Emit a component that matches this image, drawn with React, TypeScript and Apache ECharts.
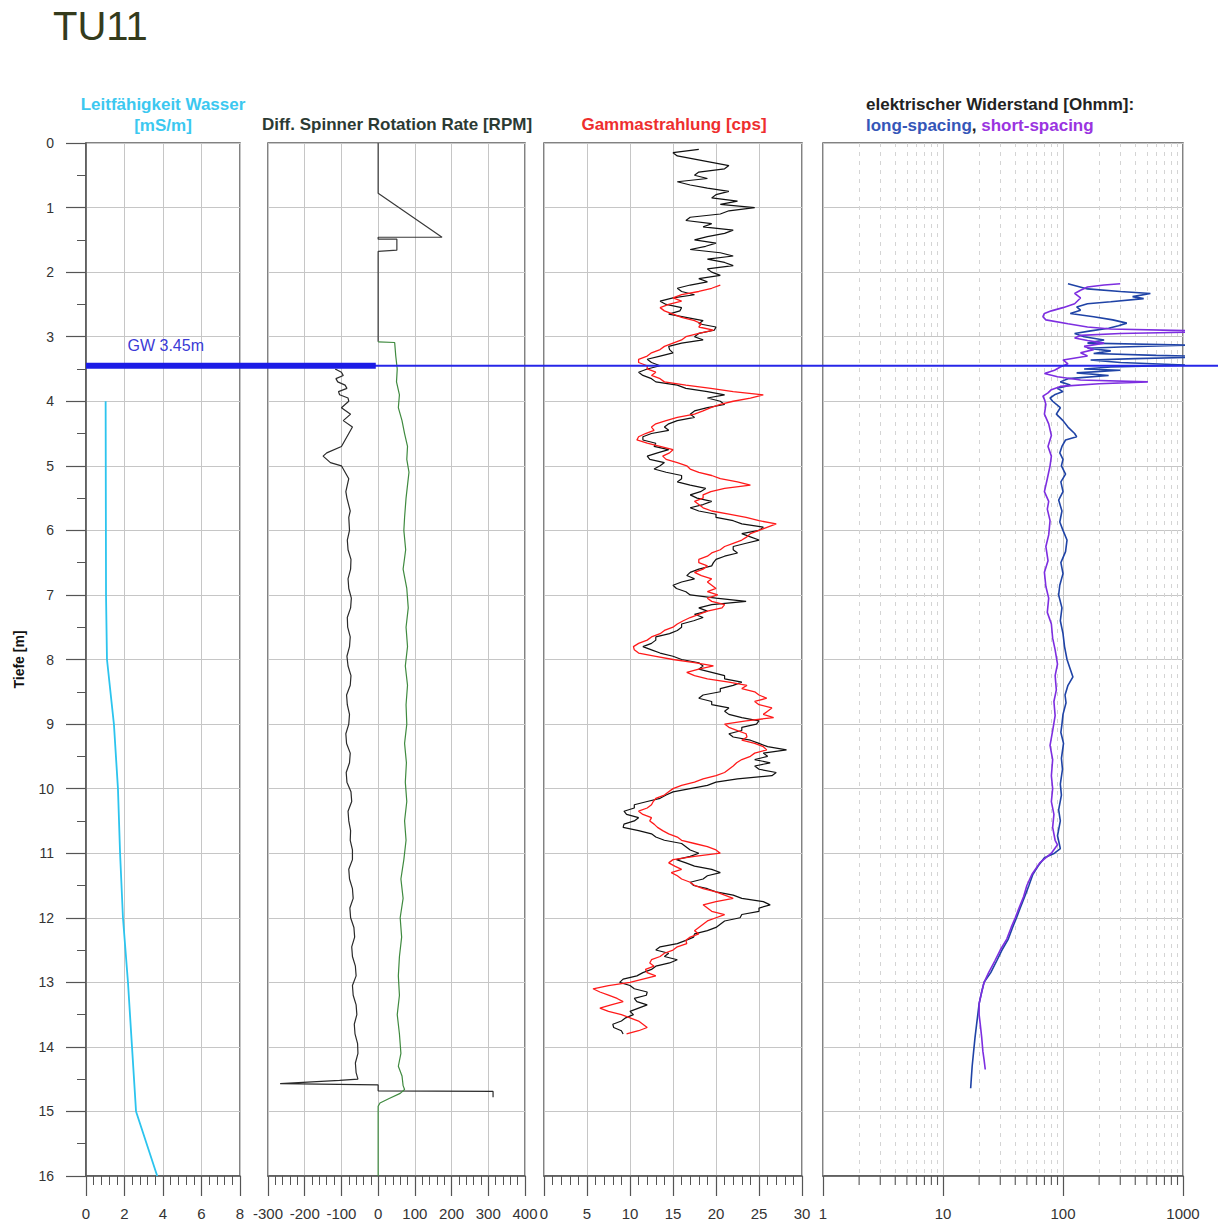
import React, { useEffect, useRef } from "react";
import * as echarts from "echarts";

const FONT = '"Liberation Sans", Arial, Helvetica, sans-serif';
const TITLE = "TU11";
const GW_DEPTH = 3.45;
const GW_LABEL = "GW 3.45m";

// Leitfähigkeit Wasser [mS/m]
const condDepth = [4.0, 7.0, 8.0, 9.0, 10, 11, 12, 13, 14, 15, 16];
const condValue = [1.02, 1.04, 1.09, 1.45, 1.66, 1.77, 1.92, 2.18, 2.39, 2.6, 3.7];

// Diff. Spinner Rotation Rate [RPM] (black, two runs)
const spinTopDepth = [0, 0.78, 1.46, 1.46, 1.49, 1.49, 1.66, 1.68, 3.08];
const spinTopValue = [0, 0, 174, 0, 0, 51, 51, 0, 0];
const spinLowDepth = [3.5, 3.55, 3.6, 3.65, 3.7, 3.75, 3.8, 3.85, 3.9, 3.95, 4.0, 4.1, 4.2, 4.3, 4.4, 4.5, 4.6, 4.7, 4.8, 4.85, 4.95, 5.0, 5.2, 5.4, 5.5, 5.7, 5.8, 6.0, 6.15, 6.3, 6.45, 6.6, 6.75, 6.9, 7.05, 7.2, 7.35, 7.5, 7.65, 7.8, 7.95, 8.1, 8.25, 8.4, 8.55, 8.7, 8.85, 9.0, 9.15, 9.3, 9.45, 9.6, 9.75, 9.9, 10.05, 10.2, 10.35, 10.5, 10.65, 10.8, 10.95, 11.1, 11.25, 11.4, 11.55, 11.7, 11.85, 12.0, 12.15, 12.3, 12.45, 12.6, 12.75, 12.9, 13.05, 13.2, 13.35, 13.5, 13.65, 13.8, 13.95, 14.1, 14.25, 14.4, 14.5, 14.52, 14.57, 14.59, 14.68, 14.69, 14.78];
const spinLowValue = [-117, -100, -95, -115, -110, -90, -85, -108, -105, -82, -80, -100, -75, -95, -70, -80, -90, -100, -140, -150, -130, -100, -80, -88, -85, -76, -80, -78, -84, -82, -74, -75, -82, -80, -73, -75, -84, -83, -76, -78, -85, -82, -74, -76, -86, -84, -78, -80, -88, -86, -76, -78, -87, -85, -74, -72, -82, -80, -75, -76, -70, -70, -80, -78, -70, -68, -77, -75, -66, -64, -72, -70, -62, -60, -70, -68, -60, -58, -65, -63, -56, -55, -62, -60, -55, -105, -267, 0, 0, 313, 313];
// green run
const spinGreenDepth = [3.08, 3.09, 3.3, 3.5, 3.7, 3.9, 4.1, 4.3, 4.5, 4.7, 4.9, 5.1, 5.3, 5.5, 5.8, 6.0, 6.3, 6.6, 6.9, 7.2, 7.5, 7.8, 8.1, 8.4, 8.7, 9.0, 9.3, 9.6, 9.9, 10.2, 10.5, 10.8, 11.1, 11.4, 11.7, 12.0, 12.3, 12.6, 12.9, 13.2, 13.5, 13.8, 14.1, 14.3, 14.45, 14.6, 14.66, 14.72, 14.8, 14.87, 14.92, 16];
const spinGreenValue = [0, 45, 48, 52, 50, 58, 55, 65, 72, 80, 78, 84, 80, 76, 72, 70, 75, 68, 78, 82, 76, 80, 74, 80, 76, 78, 72, 77, 74, 78, 72, 76, 70, 62, 68, 60, 64, 58, 55, 58, 52, 58, 62, 55, 65, 68, 72, 60, 30, 5, 0, 0];

// Gammastrahlung [cps], sampled every 0.05 m
const GAMMA_STEP = 0.05;
const gammaBlackStart = 0.1;
const gammaBlack = [
  18, 15, 15.5, 17.5, 19.5, 21.5, 21, 18, 17.5, 19, 15.5, 17, 19, 21.5, 20, 19.5, 22.5, 20.5, 24.5, 21.5,
  20.5, 17, 16.5, 19.5, 18.5, 22, 21, 19, 17.5, 20, 18.8, 17, 20.5, 22, 19, 21, 22, 19, 19.5, 20.5,
  18, 19, 17, 15.5, 16, 17.5, 15, 13.5, 14.2, 16, 15.8, 14.5, 16.5, 18.5, 18, 20, 19.8, 18, 17.5, 18.5,
  16, 14.5, 14.6, 15, 13.5, 12, 12.5, 13.5, 12, 11, 11.5, 12.5, 13, 15.5, 16.5, 19, 21, 19, 20.5, 21,
  19, 17.5, 17, 17.5, 15.5, 14.5, 14, 14.5, 12.5, 11.5, 11.5, 13, 12.8, 14.5, 13.2, 12, 12.3, 14, 13.5, 12.8,
  14.2, 16, 16, 15.5, 17, 18.8, 18.2, 17, 17.8, 19.5, 18.5, 17, 18, 20, 20, 22, 23, 25.5, 25, 23,
  24, 25, 23.5, 22, 22, 22.5, 21, 20, 19.7, 19.5, 18, 17, 16.6, 17.5, 16, 15, 15.4, 16.5, 17, 20,
  23.5, 19.5, 18, 19, 17.5, 18.5, 17.4, 16, 16, 15.5, 14.6, 13, 13, 12.5, 11.5, 12.5, 13.5, 15, 16, 18,
  18.5, 18, 19.5, 21, 21, 23, 22, 20.5, 20.5, 18.5, 18, 19.5, 19.5, 21.5, 21, 21.5, 23, 25, 24.7, 23,
  23, 21.5, 22, 24, 25, 26, 28.2, 25.5, 26, 24.5, 26.3, 24.5, 25, 27, 26.5, 22.5, 20, 19, 17, 15,
  14.2, 13.5, 12, 10.5, 10.5, 9.3, 9.6, 11, 10.5, 9.3, 9.2, 11, 12.5, 13, 14, 16, 16.5, 17, 18, 17,
  15.4, 16.5, 17.5, 19.5, 20.5, 19, 18.5, 17, 17.4, 19, 20, 22, 23, 25.5, 26.3, 25, 25, 23, 22.8, 21,
  20.5, 20, 19, 17.5, 17.4, 16.5, 15.5, 13.5, 13, 14.5, 14, 15.5, 14.6, 13, 12.5, 11.5, 10.8, 9.2, 8.8, 10,
  10.5, 12, 11.9, 10.5, 10.8, 12, 11, 10, 10.4, 9.5, 9, 8, 8.1, 9, 9.2,
];
const gammaRedStart = 2.2;
const gammaRed = [
  20.5, 19.5, 18, 16, 15, 16, 14.5, 13.5, 14, 15, 16, 17.5, 18.3, 18, 19.7, 18, 16.5, 16,
  15, 14, 13.5, 12.5, 12, 11, 11, 12, 12, 13, 12.5, 13.5, 14, 16.5, 19.4, 22, 25.5, 24, 22, 20.5,
  19.4, 18.5, 17.5, 15.5, 14.2, 13, 12.5, 12.8, 11.8, 11, 10.8, 12, 13.5, 15, 14.6, 13.8, 14.2, 15.5, 16.6, 17,
  18, 19.5, 20.5, 22.5, 24, 21, 19.4, 18.5, 18.5, 17.5, 18, 18.5, 19.5, 21.5, 23.5, 25, 27, 26, 25, 24,
  23.6, 23, 22, 21, 20.5, 19.5, 19, 18, 18, 19, 18.5, 17.5, 18.3, 19.5, 19, 19.5, 20, 19, 20.2, 19,
  19.5, 21, 20.7, 19, 18, 17, 16.2, 15.5, 15, 14, 13.5, 12.5, 12, 11, 10.4, 10.5, 11, 13, 15, 17.5,
  19.7, 18, 16.6, 17.5, 19, 21.5, 23.6, 23, 24.5, 25, 25.9, 24.5, 25, 26.5, 26, 25.5, 26.7, 23.5, 21, 21.5,
  22.5, 23.5, 23.6, 23, 24.5, 25.5, 25.9, 24.5, 24, 23, 22.4, 22, 21.5, 21, 20, 18.5, 17.5, 16, 15, 14.5,
  14, 13, 12.7, 12.5, 12, 11, 11.5, 12.5, 12.3, 12.8, 13.2, 13.8, 14.5, 15.5, 16, 17.5, 19, 20, 20.5, 17.5,
  15, 14.5, 15.2, 16, 14.8, 15.5, 16, 17, 17.5, 18.5, 20, 21, 22, 20, 18.5, 19, 19.5, 21, 20, 19,
  18.5, 18, 17.5, 18, 17, 16.5, 16.6, 15.5, 15, 14, 13.5, 12.5, 12.3, 12.8, 11.8, 12, 13, 11.5, 10, 7.5,
  5.7, 6.5, 7.5, 8.5, 9.2, 7.8, 6.5, 7.5, 9, 10, 11, 11.5, 12, 11, 9.6,
];

// elektrischer Widerstand [Ohmm]
const resLongDepth = [2.18, 2.26, 2.3, 2.33, 2.38, 2.41, 2.46, 2.49, 2.54, 2.59, 2.64, 2.69, 2.74, 2.79, 2.83, 2.87, 2.91, 2.95, 3.0, 3.05, 3.1, 3.13, 3.16, 3.18, 3.22, 3.26, 3.29, 3.31, 3.34, 3.36, 3.4, 3.44, 3.47, 3.5, 3.52, 3.56, 3.6, 3.65, 3.7, 3.75, 3.8, 3.85, 3.9, 3.95, 4.0, 4.1, 4.2, 4.3, 4.4, 4.5, 4.55, 4.6, 4.7, 4.8, 4.9, 5.0, 5.13, 5.25, 5.4, 5.53, 5.7, 5.87, 6.0, 6.15, 6.33, 6.5, 6.67, 6.85, 7.0, 7.2, 7.4, 7.6, 7.8, 8.0, 8.15, 8.27, 8.4, 8.55, 8.67, 8.85, 9.0, 9.13, 9.3, 9.53, 9.7, 9.93, 10.1, 10.33, 10.5, 10.73, 10.85, 10.93, 11.0, 11.07, 11.2, 11.33, 11.5, 11.67, 11.85, 12.0, 12.15, 12.33, 12.5, 12.67, 12.85, 13.0, 13.15, 13.33, 13.5, 13.67, 13.85, 14.07, 14.3, 14.5, 14.64];
const resLongValue = [110, 160, 300, 535, 380, 470, 250, 160, 130, 140, 115, 180, 260, 340, 290, 240, 170, 125, 150, 220, 160, 1200, 300, 160, 250, 180, 600, 2200, 400, 170, 300, 1100, 250, 150, 300, 130, 240, 110, 95, 115, 90, 100, 85, 78, 82, 95, 88, 100, 110, 125, 130, 105, 98, 94, 100, 97, 105, 96, 100, 92, 98, 94, 100, 108, 105, 96, 100, 94, 92, 98, 95, 100, 103, 108, 115, 121, 110, 104, 106, 100, 98, 96, 101, 97, 99, 95, 97, 92, 95, 90, 93, 95, 85, 70, 62, 56, 52, 48, 44, 41, 38, 35, 31, 28, 25, 22, 21, 20, 19.5, 19, 18.5, 18, 17.5, 17.2, 17];
const resShortDepth = [2.18, 2.2, 2.23, 2.28, 2.33, 2.4, 2.49, 2.55, 2.6, 2.64, 2.69, 2.74, 2.8, 2.85, 2.88, 2.92, 2.95, 2.98, 3.02, 3.06, 3.1, 3.15, 3.2, 3.25, 3.3, 3.36, 3.42, 3.47, 3.52, 3.57, 3.62, 3.67, 3.7, 3.73, 3.77, 3.82, 3.87, 3.92, 3.97, 4.05, 4.2, 4.35, 4.53, 4.7, 4.85, 5.0, 5.2, 5.4, 5.55, 5.67, 5.85, 6.07, 6.25, 6.47, 6.65, 6.87, 7.05, 7.27, 7.45, 7.67, 7.85, 8.07, 8.25, 8.47, 8.65, 8.87, 9.1, 9.33, 9.55, 9.8, 10.0, 10.2, 10.4, 10.6, 10.8, 10.87, 11.0, 11.15, 11.33, 11.5, 11.67, 11.85, 12.0, 12.15, 12.33, 12.5, 12.67, 12.85, 13.0, 13.15, 13.33, 13.5, 13.67, 13.85, 14.07, 14.2, 14.35];
const resShortValue = [300, 220, 160, 140, 125, 140, 125, 100, 80, 70, 68, 72, 110, 160, 250, 2200, 300, 140, 125, 160, 220, 150, 180, 140, 160, 100, 110, 95, 85, 70, 90, 140, 510, 200, 95, 80, 75, 68, 70, 72, 70, 76, 80, 75, 80, 78, 74, 70, 76, 74, 78, 76, 72, 75, 70, 72, 76, 74, 80, 82, 86, 90, 86, 88, 84, 86, 82, 78, 82, 80, 82, 80, 84, 82, 86, 90, 80, 64, 55, 50, 47, 43, 40, 37, 34, 30, 27, 24, 22, 21, 20, 20, 20.5, 21, 21.5, 22, 22.5];

// log-axis minor positions (2..9 per decade)
const LOG_DECADES = [1, 10, 100];
const LOG_MINOR = [2, 3, 4, 5, 6, 7, 8, 9];

const GW_THICK_END = 0.256; // fraction of overlay width where the thick bar ends

const GRID_TOP = 143;
const GRID_H = 1033;
const PANELS = [
  { left: 86, width: 154 },
  { left: 268, width: 257 },
  { left: 544, width: 258 },
  { left: 823, width: 360 },
];

const AXIS_COLOR = "#555";
const MINOR_TICK_LEN = 9;

const pairs = (vals: number[], depths: number[]) => vals.map((v, i) => [v, depths[i]]);
const stepped = (vals: number[], start: number, step: number) =>
  vals.map((v, i) => [v, Math.round((start + i * step) * 100) / 100]);

const minorVals: number[] = [];
LOG_DECADES.forEach((d) => LOG_MINOR.forEach((m) => minorVals.push(d * m)));

function buildOption() {
  const splitColor = "#c6c6c6";
  const xBase = (i: number) => ({
    gridIndex: i,
    position: "bottom",
    axisLine: { show: true, onZero: false, lineStyle: { color: AXIS_COLOR, width: 1.5 } },
    axisTick: { show: true, inside: false, length: 20, lineStyle: { color: AXIS_COLOR, width: 1.2 } },
    minorTick: { show: true, splitNumber: 5, length: MINOR_TICK_LEN, lineStyle: { color: AXIS_COLOR, width: 1 } },
    axisLabel: { show: true, margin: 30, fontSize: 15, color: "#333", fontFamily: FONT },
    splitLine: { show: true, lineStyle: { color: splitColor, width: 1 } },
  });

  const xAxis: any[] = [
    { ...xBase(0), type: "value", min: 0, max: 8, interval: 2 },
    { ...xBase(1), type: "value", min: -300, max: 400, interval: 100 },
    { ...xBase(2), type: "value", min: 0, max: 30, interval: 5 },
    {
      ...xBase(3),
      type: "log",
      logBase: 10,
      min: 1,
      max: 1000,
      minorTick: { show: false },
      axisLabel: { show: true, margin: 30, fontSize: 15, color: "#333", fontFamily: FONT, formatter: (v: number) => String(Math.round(v)) },
    },
    { gridIndex: 4, type: "value", min: 0, max: 1, show: false },
  ];

  const yAxis: any[] = PANELS.map((_, i) => ({
    gridIndex: i,
    type: "value",
    min: 0,
    max: 16,
    interval: 1,
    inverse: true,
    axisLine: { show: i === 0, onZero: false, lineStyle: { color: AXIS_COLOR, width: 1.5 } },
    axisTick: { show: i === 0, inside: false, length: 20, lineStyle: { color: AXIS_COLOR, width: 1.2 } },
    minorTick: { show: i === 0, splitNumber: 2, length: MINOR_TICK_LEN, lineStyle: { color: AXIS_COLOR, width: 1 } },
    axisLabel: { show: i === 0, margin: 32, fontSize: 14, color: "#333", fontFamily: FONT },
    splitLine: { show: true, lineStyle: { color: splitColor, width: 1 } },
    name: i === 0 ? "Tiefe [m]" : "",
    nameLocation: "middle",
    nameRotate: 90,
    nameGap: 60,
    nameTextStyle: { fontSize: 14, fontWeight: "bold", color: "#111", fontFamily: FONT },
  }));
  yAxis.push({ gridIndex: 4, type: "value", min: 0, max: 16, inverse: true, show: false });

  const line = (name: string, xi: number, data: any[], color: string, width = 1.2, extra: any = {}) => ({
    name,
    type: "line",
    xAxisIndex: xi,
    yAxisIndex: xi,
    data,
    symbol: "none",
    showSymbol: false,
    silent: true,
    lineStyle: { color, width },
    itemStyle: { color },
    z: 3,
    ...extra,
  });

  const series: any[] = [
    line("Leitfähigkeit", 0, pairs(condValue, condDepth), "#2cc4ee", 1.8),
    line("Spinner oben", 1, pairs(spinTopValue, spinTopDepth), "#3a3a3a", 1.2),
    line("Spinner", 1, pairs(spinLowValue, spinLowDepth), "#2a2a2a", 1.2),
    line("Spinner grün", 1, pairs(spinGreenValue, spinGreenDepth), "#3f8a3f", 1.2),
    line("Gamma schwarz", 2, stepped(gammaBlack, gammaBlackStart, GAMMA_STEP), "#111", 1.2),
    line("Gamma rot", 2, stepped(gammaRed, gammaRedStart, GAMMA_STEP), "#ff1a1a", 1.3),
    line("long-spacing", 3, pairs(resLongValue, resLongDepth), "#1f43a6", 1.6, {
      clip: false,
      markLine: {
        silent: true,
        symbol: ["none", "none"],
        label: { show: false },
        lineStyle: { color: "#d4d4d4", width: 1, type: [4, 5] },
        data: minorVals.map((v) => ({ xAxis: v })),
        z: 1,
      },
    }),
    line("short-spacing", 3, pairs(resShortValue, resShortDepth), "#7d2ee0", 1.6, { clip: false }),
    {
      // short minor ticks of the log axis (2..9 per decade), hanging below the bottom edge
      name: "log minor ticks",
      type: "scatter",
      xAxisIndex: 3,
      yAxisIndex: 3,
      silent: true,
      clip: false,
      data: minorVals.map((v) => [v, 16]),
      symbol: "rect",
      symbolSize: [1.1, MINOR_TICK_LEN],
      symbolOffset: [0, MINOR_TICK_LEN / 2],
      itemStyle: { color: AXIS_COLOR, opacity: 1 },
      z: 10,
    },
    line("GW", 4, [[0, GW_DEPTH], [1, GW_DEPTH]], "#2626e8", 2, { z: 5 }),
    line("GW dick", 4, [[0, GW_DEPTH], [GW_THICK_END, GW_DEPTH]], "#1c1ce6", 6, {
      z: 6,
      markPoint: {
        silent: true,
        symbol: "rect",
        symbolSize: 1,
        itemStyle: { color: "rgba(0,0,0,0)" },
        data: [
          {
            coord: [0, GW_DEPTH],
            label: {
              show: true,
              formatter: GW_LABEL,
              position: "right",
              offset: [36, -20],
              color: "#3a3ad6",
              fontSize: 16,
              fontFamily: FONT,
            },
          },
        ],
      },
    }),
  ];

  const HFS = 17;
  const hdr = (text: string, x: number, y: number, fill: string, align = "center") => ({
    type: "text",
    x,
    y,
    silent: true,
    style: {
      text,
      fill,
      fontSize: HFS,
      fontWeight: "bold",
      fontFamily: FONT,
      align,
      verticalAlign: "middle",
    },
  });

  return {
    animation: false,
    backgroundColor: "#ffffff",
    grid: [
      ...PANELS.map((p) => ({
        left: p.left,
        width: p.width,
        top: GRID_TOP,
        height: GRID_H,
        show: true,
        borderColor: "#5a5a5a",
        borderWidth: 1.5,
        backgroundColor: "transparent",
      })),
      { left: 86, width: 1132, top: GRID_TOP, height: GRID_H, show: false },
    ],
    xAxis,
    yAxis,
    series,
    graphic: [
      {
        type: "text",
        x: 53,
        y: 26,
        silent: true,
        style: { text: TITLE, fill: "#343b1c", fontSize: 40, fontFamily: FONT, align: "left", verticalAlign: "middle" },
      },
      hdr("Leitfähigkeit Wasser", 163, 104, "#3cc8f0"),
      hdr("[mS/m]", 163, 125, "#3cc8f0"),
      hdr("Diff. Spinner Rotation Rate [RPM]", 397, 124, "#2b3a33"),
      hdr("Gammastrahlung [cps]", 674, 124, "#ee2e2e"),
      hdr("elektrischer Widerstand [Ohmm]:", 866, 104, "#222", "left"),
      {
        type: "text",
        x: 866,
        y: 125,
        silent: true,
        style: {
          text: "{a|long-spacing}{b|, }{c|short-spacing}",
          fontSize: HFS,
          fontWeight: "bold",
          fontFamily: FONT,
          align: "left",
          verticalAlign: "middle",
          rich: {
            a: { fill: "#3456b8", color: "#3456b8", fontSize: HFS, fontWeight: "bold", fontFamily: FONT },
            b: { fill: "#222", color: "#222", fontSize: HFS, fontWeight: "bold", fontFamily: FONT },
            c: { fill: "#9a34e0", color: "#9a34e0", fontSize: HFS, fontWeight: "bold", fontFamily: FONT },
          },
        },
      },
    ],
  };
}

export default function App() {
  const ref = useRef<HTMLDivElement>(null);
  useEffect(() => {
    if (!ref.current) return;
    const chart = echarts.init(ref.current, undefined, { renderer: "svg" });
    chart.setOption(buildOption() as any);
    return () => chart.dispose();
  }, []);
  return (
    <div
      ref={ref}
      style={{ position: "absolute", left: 0, top: 0, width: 1218, height: 1224, background: "#fff" }}
    />
  );
}
